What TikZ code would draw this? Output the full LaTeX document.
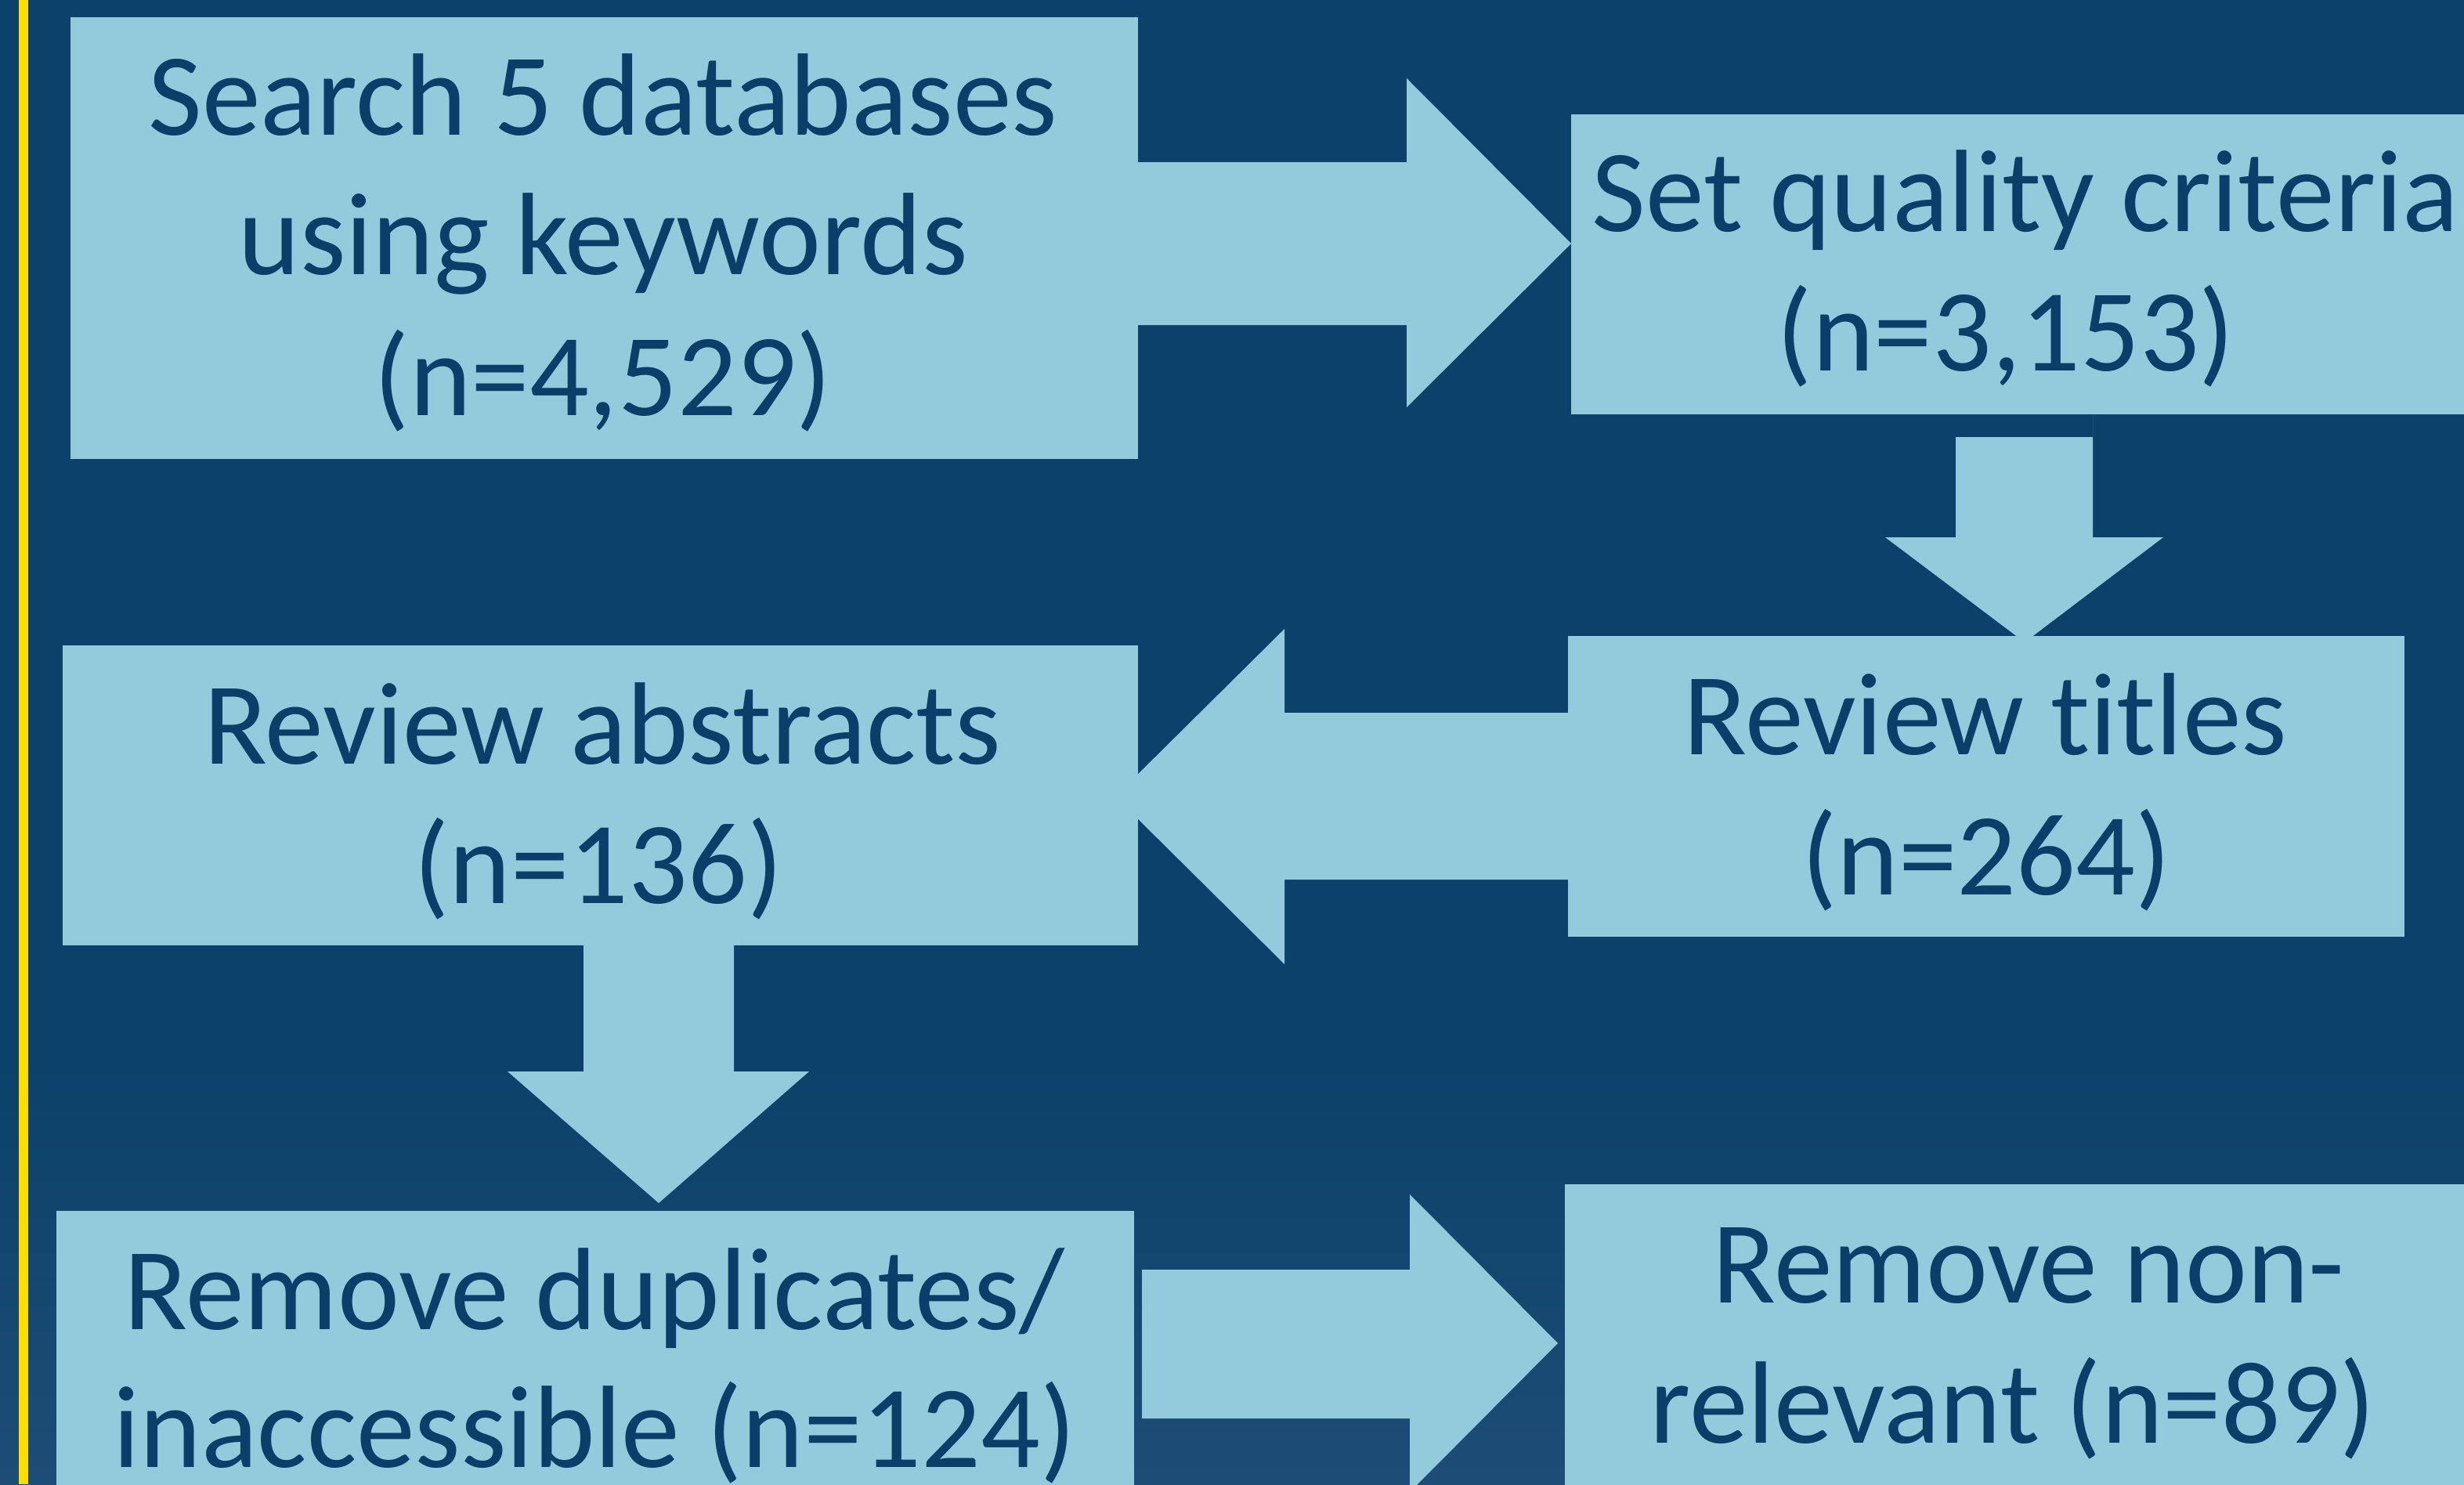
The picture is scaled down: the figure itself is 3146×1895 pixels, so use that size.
\documentclass[tikz,border=0pt]{standalone}
\usepackage{fontspec}
\setmainfont{Carlito}[Ligatures=NoCommon]
\definecolor{bgc}{HTML}{0B416A}
\definecolor{bgbot}{HTML}{1D4D76}
\definecolor{boxc}{HTML}{93CBDD}
\definecolor{txtc}{HTML}{0B3F69}
\definecolor{yel}{HTML}{FFDD00}
\begin{document}
\begin{tikzpicture}[x=0.25pt,y=-0.25pt,
  box/.style={fill=boxc, draw=none, anchor=north west, inner sep=0pt, outer sep=0pt},
  lbl/.style={anchor=base, text=txtc, font=\fontsize{37.4}{45}\selectfont, inner sep=0pt},
  blk/.style={fill=boxc, draw=none}]
\useasboundingbox (0,0) rectangle (3146,1895);
\clip (0,0) rectangle (3146,1895);
% background
\fill[bgc] (0,0) rectangle (3146,1895);
\shade[top color=bgc, bottom color=bgbot] (0,1350) rectangle (3146,1895);
\fill[yel] (24,0) rectangle (36,1895);
% named anchor points of the boxes
\coordinate (b1e) at (1453,311);
\coordinate (b2w) at (2006,311);
\coordinate (b3w) at (2002,1017);
\coordinate (b4e) at (1424,1017);
\coordinate (b3n) at (2585,820);
\coordinate (b4s) at (841,1206);
\coordinate (b5n) at (841,1536);
\coordinate (b6w) at (1989,1715);
% block arrows (behind the boxes)
\fill[blk] (b1e |- 0,207) -- (1796,207) -- (1796,100) -- (b2w) -- (1796,520) -- (1796,415) -- (b1e |- 0,415) -- cycle;
\fill[blk] (2497,530) -- (2672,530) -- (2672,686) -- (2762,686) -- (b3n) -- (2407,686) -- (2497,686) -- cycle;
\fill[blk] (b3w |- 0,910) -- (1640,910) -- (1640,803) -- (b4e) -- (1640,1231) -- (1640,1123) -- (b3w |- 0,1123) -- cycle;
\fill[blk] (745,1206) -- (937,1206) -- (937,1368) -- (1033,1368) -- (b5n) -- (648,1368) -- (745,1368) -- cycle;
\fill[blk] (1458,1621) -- (1800,1621) -- (1800,1525) -- (b6w) -- (1800,1905) -- (1800,1811) -- (1458,1811) -- cycle;
% boxes
\node[box, minimum width=340.75pt, minimum height=141pt] (b1) at (90,22) {};
\node[box, minimum width=290pt, minimum height=95.75pt] (b2) at (2006,146) {};
\node[box, minimum width=267pt, minimum height=96pt] (b3) at (2002,812) {};
\node[box, minimum width=343.25pt, minimum height=95.75pt] (b4) at (80,824) {};
\node[box, minimum width=344pt, minimum height=92.5pt] (b5) at (72,1546) {};
\node[box, minimum width=292.5pt, minimum height=100pt] (b6) at (1998,1512) {};
\fill[bgc] (2497,529) rectangle (2672,558);
% labels
\node[lbl] (t1a) at (770,172) {Search 5 databases};
\node[lbl] (t1b) at (770,350) {using keywords};
\node[lbl] (t1c) at (770,530) {(n=4,529)};
\node[lbl] (t2a) at (2586,295) {Set quality criteria};
\node[lbl] (t2b) at (2561,473) {(n=3,153)};
\node[lbl] (t3a) at (2535,963) {Review titles};
\node[lbl] (t3b) at (2536,1142) {(n=264)};
\node[lbl] (t4a) at (769,975) {Review abstracts};
\node[lbl] (t4b) at (764,1153) {(n=136)};
\node[lbl] (t5a) at (759,1697) {Remove duplicates/};
\node[lbl] (t5b) at (759,1873) {inaccessible (n=124)};
\node[lbl] (t6a) at (2590,1663) {Remove non-};
\node[lbl] (t6b) at (2570,1842) {relevant (n=89)};
\end{tikzpicture}
\end{document}
